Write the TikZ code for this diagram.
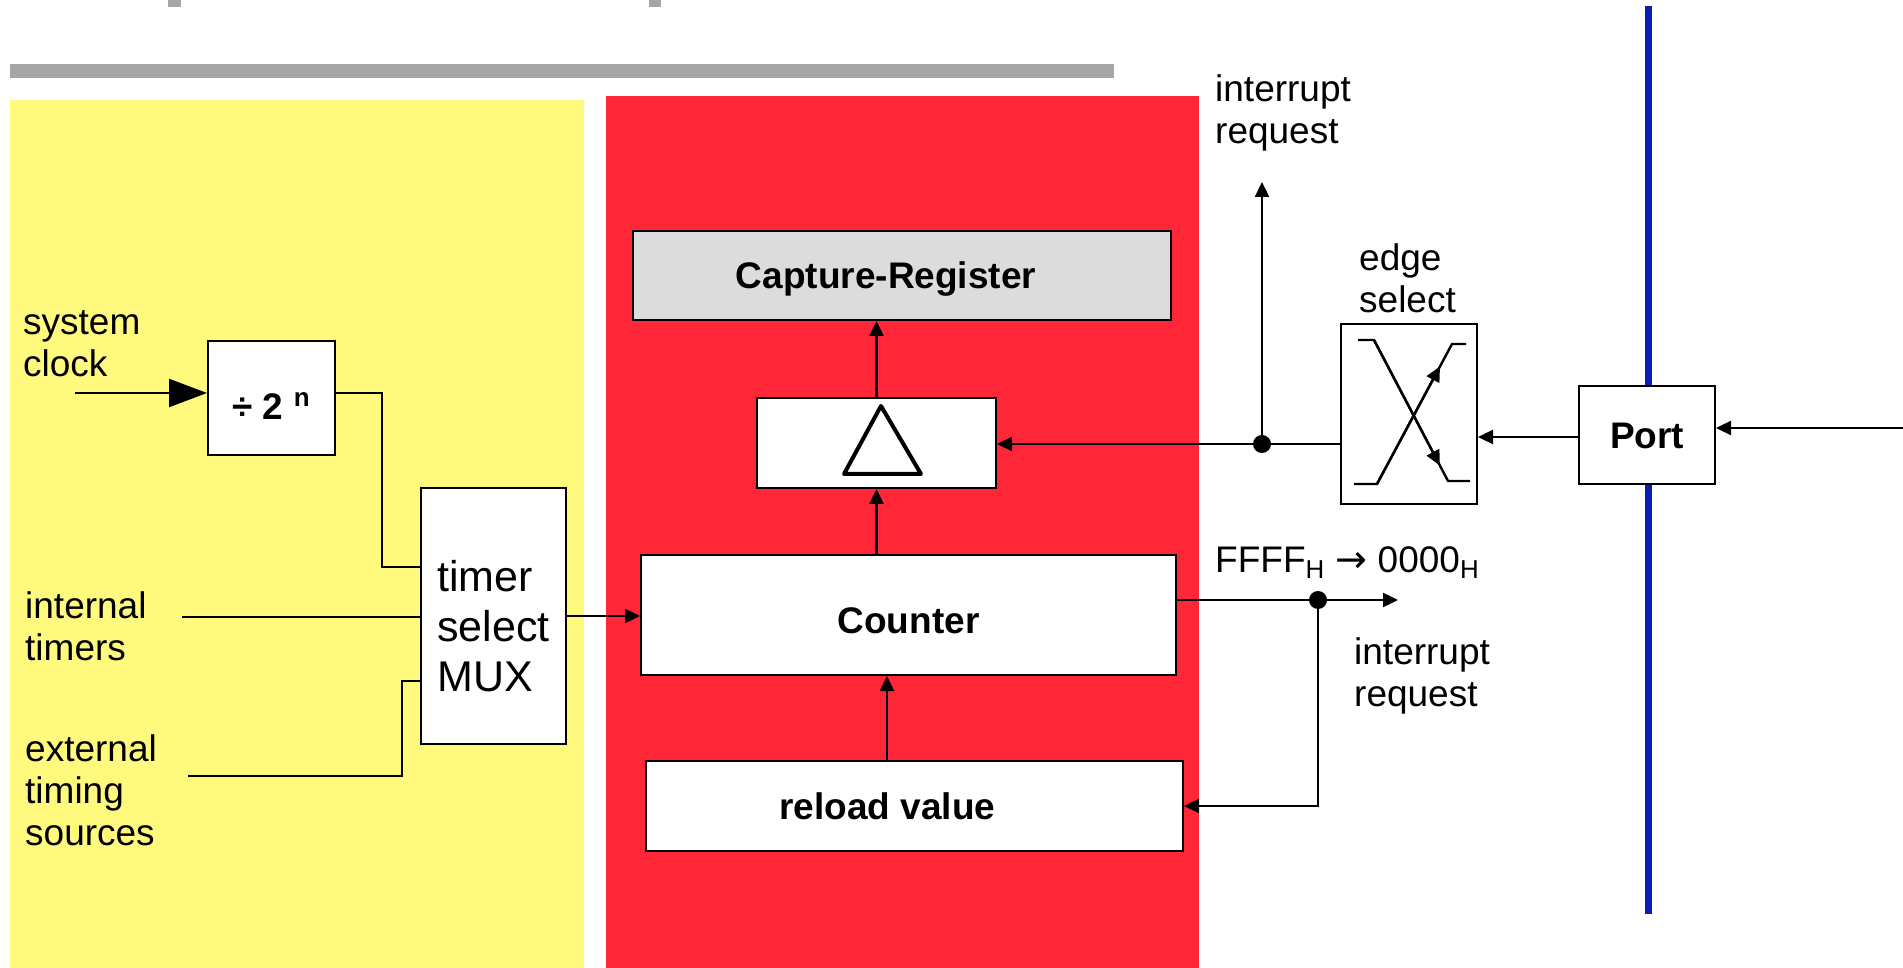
\documentclass[tikz,border=0pt]{standalone}
\usepackage{fontspec}
\setmainfont{Liberation Sans}
\newfontfamily\arrowfont{DejaVu Sans}
\usetikzlibrary{arrows.meta,calc}
\definecolor{ylwbg}{RGB}{255,250,125}
\definecolor{redbg}{RGB}{255,38,56}
\definecolor{portbar}{RGB}{10,30,180}
\definecolor{titlegray}{RGB}{166,166,166}
\definecolor{capgray}{RGB}{220,220,220}
\newcommand{\diafont}{\fontsize{18.5}{21}\selectfont}
\newcommand{\muxfont}{\fontsize{21.5}{25}\selectfont}

\begin{document}
\begin{tikzpicture}[x=0.5pt,y=-0.5pt,line width=1.2pt,font=\diafont,
    box/.style={draw, line width=1pt, fill=white, inner sep=0pt, font=\diafont\bfseries,
      text height=13.25pt, text depth=0pt},
    lbl/.style={inner sep=0pt, align=left, anchor=west},
    arr/.style={-{Triangle[length=7.5pt,width=7pt]}},
    bigarr/.style={-{Triangle[length=19pt,width=14pt]}},
    dot/.style={circle, fill, inner sep=0pt, minimum size=9pt}]
  \useasboundingbox (0,0) rectangle (1903,968);
  % title rule and background areas
  \fill[titlegray] (168,0) rectangle (181,7);
  \fill[titlegray] (649,0) rectangle (661,7);
  \fill[titlegray] (10,64) rectangle (1114,78);
  \fill[ylwbg] (10,100) rectangle (584,968);
  \fill[redbg] (606,96) rectangle (1199,968);
  \fill[portbar] (1644.5,6) rectangle (1651.5,914);

  % input labels
  \node[lbl] (sysclk) at (22,344) {system\\clock};
  \node[lbl] (inttim) at (24,626) {internal\\timers};
  \node[lbl] (exttim) at (24,790) {external\\timing\\sources};

  % blocks
  \node[box, text height=21.25pt, minimum width=63.5pt, minimum height=57pt] (div) at (271.5,398) {÷ 2 \textsuperscript{n}};
  \node[box, font=\muxfont, align=left, text height=75pt, minimum width=72.5pt, minimum height=128pt] (mux) at (493.5,616) {timer\\select\\MUX};
  \node[box, fill=capgray, minimum width=269pt, minimum height=44.5pt] (capreg) at (902,275.5) {Capture-Register\hspace*{16pt}};
  \node[box, minimum width=119.5pt, minimum height=45pt] (trig) at (876.5,443) {};
  \draw[line width=2pt, line join=round] (881,406) -- (844,474) -- (921,474) -- cycle;
  \node[box, text height=18.25pt, minimum width=267.5pt, minimum height=60pt] (counter) at (908.5,615) {Counter};
  \node[box, minimum width=268.5pt, minimum height=45pt] (reload) at (914.5,806) {reload value\hspace*{27pt}};
  \node[box, minimum width=68pt, minimum height=90pt] (edge) at (1409,414) {};
  \node[box, minimum width=68pt, minimum height=49pt] (port) at (1647,435) {Port};

  % edge select symbol
  \draw (1358,340) -- (1374,340) -- (1448,481) -- (1470,481);
  \draw (1354,484) -- (1377,484) -- (1452,344) -- (1466,344);
  \draw[arr] (1374,340) -- ($(1374,340)!0.89!(1448,481)$);
  \draw[arr] (1377,484) -- ($(1377,484)!0.84!(1452,344)$);

  % right side labels
  \node[lbl] (irqtop) at (1214,113) {interrupt\\request};
  \node[lbl] (edgesel) at (1358,278) {edge\\select};
  \node[lbl] (ovflbl) at (1214,563) {FFFF\textsubscript{H} {\arrowfont\fontsize{19}{21}\selectfont →} 0000\textsubscript{H}};
  \node[lbl] (irqbot) at (1353,676) {interrupt\\request};

  % helper points
  \coordinate (clk) at (75,393);
  \coordinate (tap1) at (382,567);
  \coordinate (it) at (182,617);
  \coordinate (et) at (188,776);
  \coordinate (tap2) at (402,681);
  \coordinate (rl) at (887,761);
  \coordinate (ovf) at (1398,600);
  \coordinate (irq) at (1262,182);
  \coordinate (pin) at (1903,428);
  \node[dot] (j1) at (1318,600) {};
  \node[dot] (j2) at (1262,444) {};

  % connections
  \draw[bigarr] (clk) -- (clk -| div.west);
  \draw (div.east |- clk) -| (tap1) -- (tap1 -| mux.west);
  \draw (it) -- (it -| mux.west);
  \draw (et) -| (tap2) -- (tap2 -| mux.west);
  \draw[arr] (mux.east) -- (mux.east -| counter.west);
  \draw[arr] (counter.north -| trig.south) -- (trig.south);
  \draw[arr] (trig.north) -- (trig.north |- capreg.south);
  \draw[arr] (rl) -- (rl |- counter.south);
  \draw[arr] (counter.east |- ovf) -- (ovf);
  \draw[arr] (j1.center) |- (reload.east);
  \draw[arr] (edge.west |- j2) -- (j2 -| trig.east);
  \draw[arr] (j2.center) -- (irq);
  \draw[arr] (port.west |- 0,437) -- (edge.east |- 0,437);
  \draw[arr] (pin) -- (pin -| port.east);
\end{tikzpicture}
\end{document}
